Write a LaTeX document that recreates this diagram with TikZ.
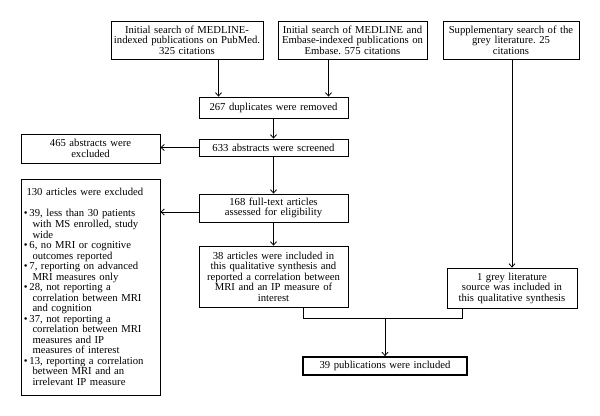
\documentclass[tikz,border=0pt]{standalone}
\usepackage{fontspec}
\setmainfont{Liberation Serif}
\usetikzlibrary{arrows.meta}
\frenchspacing
% bullet line with hanging indent
\newcommand{\bitem}[1]{\par\hangindent=6.5pt\hangafter=1\noindent\makebox[4.2pt][l]{\textbullet}#1\par}

\begin{document}
\begin{tikzpicture}[x=0.75pt,y=0.75pt,yscale=-1,xscale=1,
  box/.style={draw,line width=0.6pt,align=center,inner xsep=1pt,inner ysep=1pt,font=\fontsize{8}{7.9}\selectfont},
  arr/.style={line width=0.6pt,-{Straight Barb[length=2.5pt,width=4.5pt]}}]
\useasboundingbox (0,0) rectangle (600,416);

% Search boxes
\node[box,text width=112pt,minimum height=28.5pt] (pub) at (187,40) {Initial search of MEDLINE-\\indexed publications on PubMed.\\325 citations};
\node[box,text width=109.75pt,minimum height=28.5pt] (emb) at (352.5,40) {Initial search of MEDLINE and\\Embase-indexed publications on\\Embase. 575 citations};
\node[box,text width=100pt,minimum height=28.5pt] (grey) at (511,40) {Supplementary search of the\\grey literature. 25\\citations};

% Main column
\node[box,text width=109.75pt,minimum height=15.75pt] (dup) at (273.5,107.5) {267 duplicates were removed};
\node[box,text width=109.75pt,minimum height=12.75pt] (scr) at (273.5,147.5) {633 abstracts were screened};
\node[box,text width=109.75pt,minimum height=21pt] (ft) at (273.5,208) {168 full-text articles\\assessed for eligibility};
\node[box,text width=109.75pt,minimum height=45.75pt] (inc) at (273.5,276.5) {38 articles were included in\\this qualitative synthesis and\\reported a correlation between\\MRI and an IP measure of\\interest};

% Exclusions
\node[box,text width=102.25pt,minimum height=21.75pt] (x465) at (90.5,148.5) {465 abstracts were\\excluded};
\node[box,text width=100pt,inner xsep=2.1pt,minimum height=162pt,align=left] (x130) at (90.5,287) {\hspace*{2pt}130 articles were excluded\par\vspace{8pt}
  \bitem{39, less than 30 patients\newline with MS enrolled, study\newline wide}
  \bitem{6, no MRI or cognitive\newline outcomes reported}
  \bitem{7, reporting on advanced\newline MRI measures only}
  \bitem{28, not reporting a\newline correlation between MRI\newline and cognition}
  \bitem{37, not reporting a\newline correlation between MRI\newline measures and IP\newline measures of interest}
  \bitem{13, reporting a correlation\newline between MRI and an\newline irrelevant IP measure}};

% Grey literature and result
\node[box,text width=95.5pt,minimum height=30pt] (g1) at (512,288) {1 grey literature\\source was included in\\this qualitative synthesis};
\node[box,line width=1.3pt,text width=121pt,minimum height=13.5pt] (fin) at (385,366) {39 publications were included};

% Connectors
\coordinate (inA) at ([xshift=-41.25pt]dup.north);
\coordinate (inB) at ([xshift=41.25pt]dup.north);
\draw[arr] (pub.south -| inA) -- (inA);
\draw[arr] (emb.south -| inB) -- (inB);
\draw[arr] (dup.south) -- (scr.north);
\draw[arr] (scr.west) -- (scr.west -| x465.east);
\draw[arr] (scr.south) -- (ft.north);
\draw[arr] ([yshift=3pt]ft.west) -- ([yshift=3pt]ft.west -| x130.east);
\draw[arr] (ft.south) -- (inc.north);
\draw[arr] (grey.south -| g1.north) -- (g1.north);

% Join into final box
\coordinate (jL) at ([xshift=22.5pt]inc.south);
\coordinate (jR) at ([xshift=-37.5pt]g1.south);
\coordinate (jy) at (0,318);
\draw[line width=0.6pt] (jL) -- (jL |- jy) -- (jR |- jy) -- (jR);
\draw[arr] (fin.north |- jy) -- (fin.north);

\end{tikzpicture}
\end{document}
